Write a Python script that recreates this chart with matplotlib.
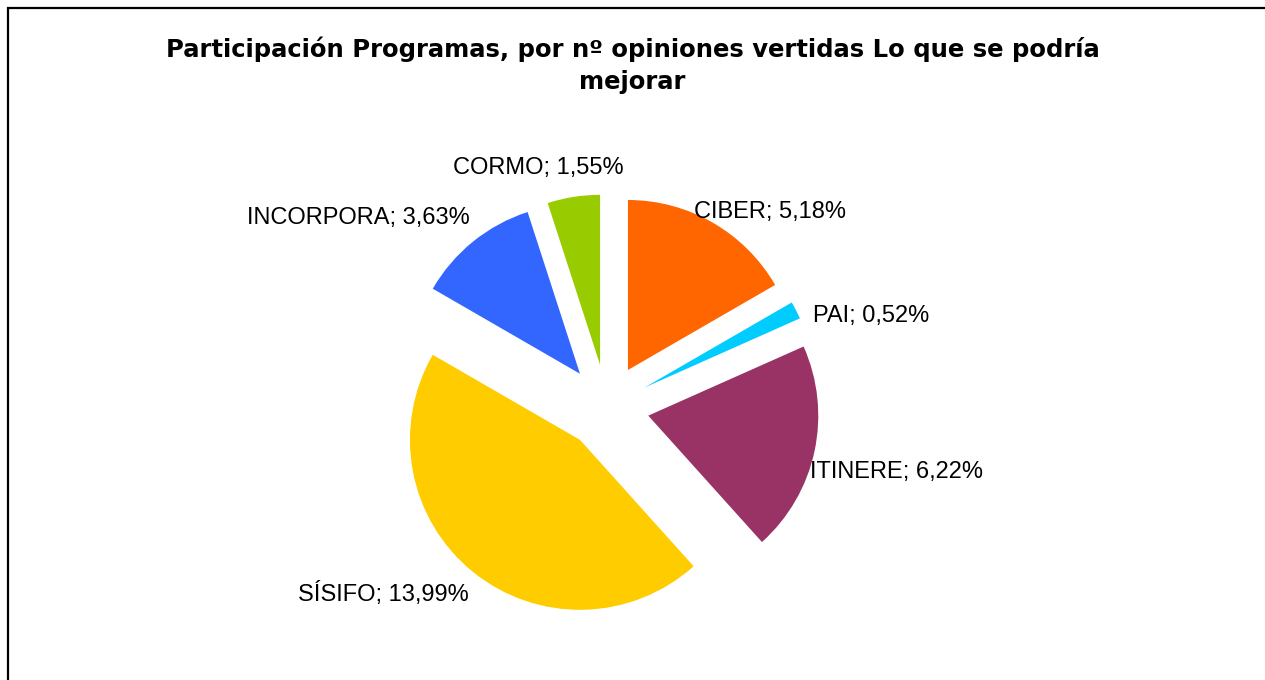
import matplotlib
matplotlib.use('Agg')
import matplotlib.pyplot as plt
from matplotlib.patches import Rectangle

programas = ['CIBER', 'PAI', 'ITINERE', 'SÍSIFO', 'INCORPORA', 'CORMO']
porcentajes = [5.18, 0.52, 6.22, 13.99, 3.63, 1.55]
colores = ['#FF6600', '#00CCFF', '#993366', '#FFCC00', '#3366FF', '#99CC00']
titulo = 'Participación Programas, por nº opiniones vertidas Lo que se podría\nmejorar'

# label centres in pixels (x from left, y from top)
pos_etiquetas = [(770, 212), (871, 316), (897, 472), (383, 594), (358, 218), (538, 168)]

W, H = 1265, 680
cx, cy, r = 606.7, 406.8, 170.0   # pie centre and radius in pixels

plt.rcParams['font.family'] = ['Liberation Sans', 'DejaVu Sans']
fig = plt.figure(figsize=(W / 100, H / 100), dpi=100)
ax = fig.add_axes([0, 0, 1, 1])

ax.pie(porcentajes, colors=colores, startangle=90, counterclock=False,
       explode=[0.25] * len(porcentajes), radius=1.0, center=(0, 0),
       wedgeprops=dict(linewidth=0), frame=True)
ax.set_xlim(-cx / r, (W - cx) / r)
ax.set_ylim(-(H - cy) / r, cy / r)
ax.axis('off')

for nombre, val, (px, py) in zip(programas, porcentajes, pos_etiquetas):
    txt = f'{nombre}; {val:.2f}'.replace('.', ',') + '%'
    ax.text((px - cx) / r, (cy - py) / r, txt, ha='center', va='center',
            fontsize=17, color='black')

fig.text(0.5, 1 - 65 / H, titulo, ha='center', va='center', fontsize=17.5,
         fontweight='bold', linespacing=1.4, family='DejaVu Sans')

fig.patches.append(Rectangle((8 / W, -0.1), 1.2, 1.1 - 8 / H, transform=fig.transFigure,
                             fill=False, edgecolor='black', linewidth=1.6))

fig.savefig('out.png', dpi=100, facecolor='white')
